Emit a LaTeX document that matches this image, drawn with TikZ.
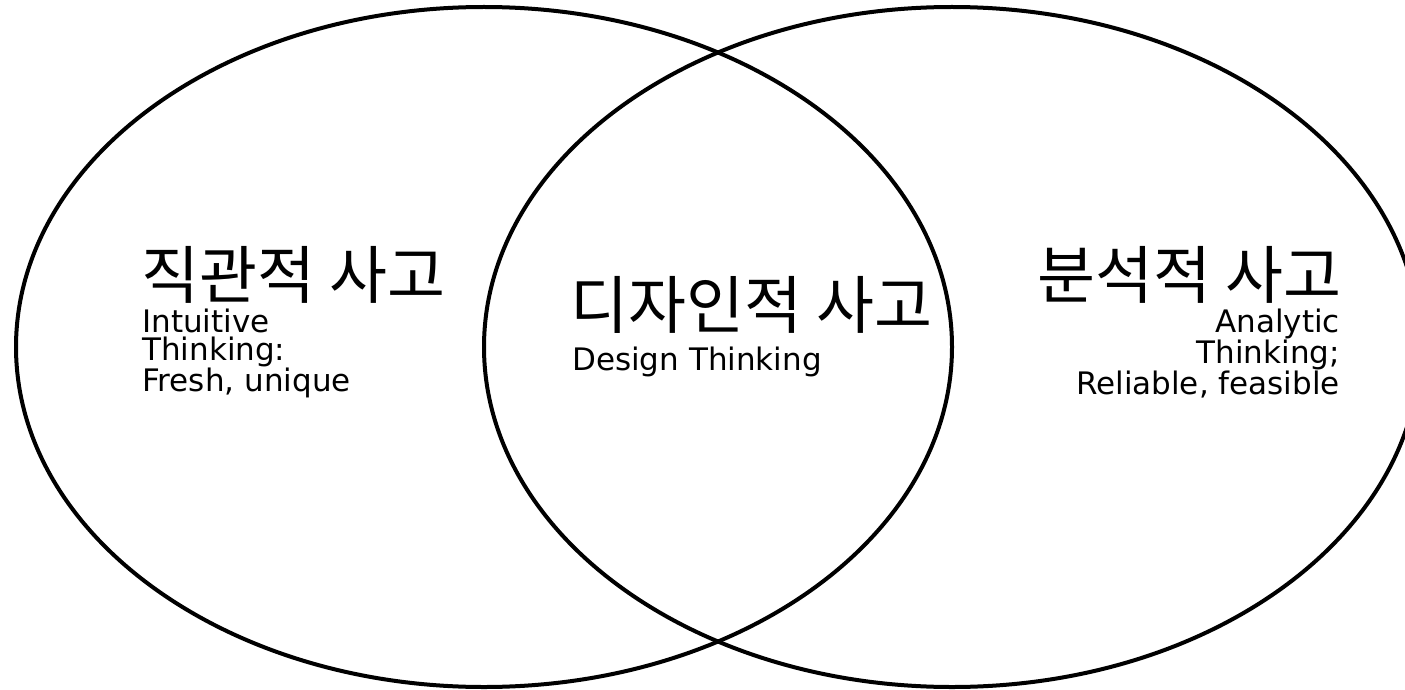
\documentclass[tikz,border=0pt]{standalone}
\usepackage{fontspec}
\setmainfont{Noto Sans CJK KR}
\newfontfamily\latinfont{DejaVu Sans}
\begin{document}
\begin{tikzpicture}[x=1pt,y=-1pt,
  ell/.style={draw=black,line width=4pt},
  big/.style={font=\fontsize{63}{66}\selectfont, inner sep=0pt},
  small/.style={font=\latinfont\fontsize{31}{27.4}\selectfont, inner sep=0pt}]
\useasboundingbox (0,0) rectangle (1405,690);
\draw[ell] (484,347) ellipse [x radius=468, y radius=340];
\draw[ell] (952,347) ellipse [x radius=468, y radius=340];
\node[big, anchor=base west] (lt) at (141,298) {직관적 사고};
\node[small, anchor=base west, align=left] (ls) at (142,391) {Intuitive\\Thinking:\\Fresh, unique};
\node[big, anchor=base west] (ct) at (570,328) {디자인적 사고};
\node[small, anchor=base west, align=left] (cs) at (572,370) {Design Thinking};
\node[big, anchor=base east] (rt) at (1342,298) {분석적 사고};
\node[small, anchor=base east, align=right] (rs) at (1340,394) {Analytic\hspace{0.48em}\\Thinking;\\Reliable, feasible};
\end{tikzpicture}
\end{document}
